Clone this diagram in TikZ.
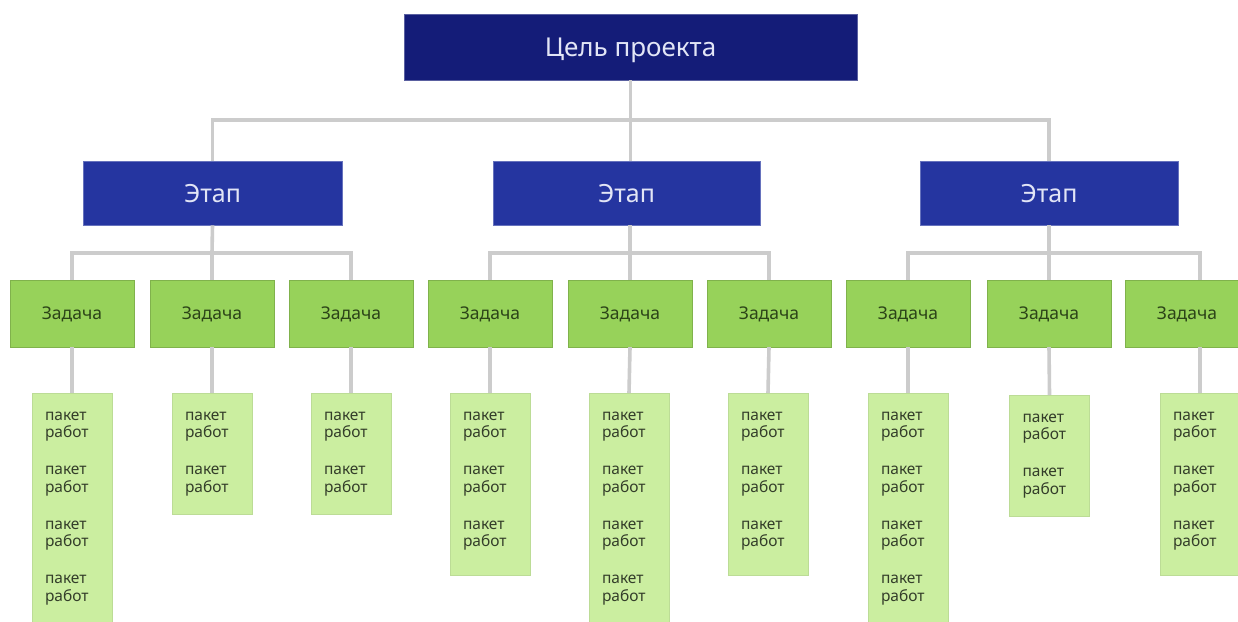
\documentclass[tikz,border=0pt]{standalone}
\usepackage{fontspec}
\setmainfont{Noto Sans}
\definecolor{goalc}{RGB}{20,28,120}
\definecolor{stagec}{RGB}{37,53,160}
\definecolor{taskc}{RGB}{151,210,90}
\definecolor{pkgc}{RGB}{203,238,160}
\definecolor{pkgb}{RGB}{188,220,150}
\definecolor{linec}{RGB}{204,204,204}
\definecolor{lighttxt}{RGB}{226,229,246}
\definecolor{tasktxt}{RGB}{44,68,24}
\definecolor{pkgtxt}{RGB}{52,62,42}
\newcommand\pkgtext[2]{\parbox[t][#1][t]{54pt}{\fontsize{15.5}{17.5}\selectfont\vspace*{14.75pt}#2}}
\newcommand\pkpair{\strut пакет\\\strut работ}
\newcommand\pkgap{\\[19.5pt]}
\begin{document}
\begin{tikzpicture}[x=1pt,y=-1pt,
  goalbox/.style={rectangle, fill=goalc, draw=goalc!70!white, line width=0.6pt, minimum width=453pt, minimum height=66pt, inner sep=0pt, text depth=0pt, text=lighttxt, font=\fontsize{26}{30}\selectfont},
  stagebox/.style={rectangle, fill=stagec, draw=stagec!70!white, line width=0.6pt, minimum height=64pt, inner sep=0pt, text depth=0pt, text=lighttxt, font=\fontsize{25}{30}\selectfont},
  taskbox/.style={rectangle, fill=taskc, draw=taskc!85!black, line width=0.4pt, minimum width=124pt, minimum height=67pt, inner sep=0pt, text depth=0pt, text=tasktxt, font=\fontsize{17.5}{20}\selectfont},
  pkgbox/.style={rectangle, fill=pkgc, draw=pkgb, line width=0.6pt, anchor=north, inner xsep=13pt, inner ysep=0pt, text=pkgtxt},
  conn/.style={draw=linec, line width=3.6pt}]
\useasboundingbox (0,0) rectangle (1238,621);
\clip (0,0) rectangle (1238,621);
\fill[white] (0,0) rectangle (1238,621);
% nodes
\node[goalbox] (goal) at (630.5,47) {Цель проекта};
\node[stagebox, minimum width=259pt] (e1) at (212.5,193) {Этап};
\node[stagebox, minimum width=267pt] (e2) at (626.5,193) {Этап};
\node[stagebox, minimum width=258pt] (e3) at (1049,193) {Этап};
\node[taskbox] (t11) at (72,313.5) {Задача};
\node[taskbox] (t12) at (212,313.5) {Задача};
\node[taskbox] (t13) at (351,313.5) {Задача};
\node[taskbox] (t21) at (490,313.5) {Задача};
\node[taskbox] (t22) at (630,313.5) {Задача};
\node[taskbox] (t23) at (769,313.5) {Задача};
\node[taskbox] (t31) at (908,313.5) {Задача};
\node[taskbox] (t32) at (1049,313.5) {Задача};
\node[taskbox, minimum width=150pt] (t33) at (1200,313.5) {\hspace*{-26pt}Задача};
% bus coordinates
\coordinate (b0) at (630.5,120);
\coordinate (b1) at (212,253);
\coordinate (b2) at (630,253);
\coordinate (b3) at (1049,253);
% connectors
\draw[conn] (goal.south) -- (b0);
\draw[conn] (e1.north) |- (b0) -| (e3.north);
\draw[conn] (b0) -- (b0 |- e2.north);
\draw[conn] (e1.south) -- (b1) -- (t12.north);
\draw[conn] (t11.north) |- (b1) -| (t13.north);
\draw[conn] (e2.south -| b2) -- (b2) -- (t22.north);
\draw[conn] (t21.north) |- (b2) -| (t23.north);
\draw[conn] (e3.south) -- (b3) -- (t32.north);
\draw[conn] (t31.north) |- (b3) -| (t33.north);
% packages
\node[pkgbox] (p11) at (72,393) {\pkgtext{240pt}{\pkpair\pkgap\pkpair\pkgap\pkpair\pkgap\pkpair}};
\node[pkgbox] (p12) at (212,393) {\pkgtext{121pt}{\pkpair\pkgap\pkpair}};
\node[pkgbox] (p13) at (351,393) {\pkgtext{121pt}{\pkpair\pkgap\pkpair}};
\node[pkgbox] (p21) at (490,393) {\pkgtext{182pt}{\pkpair\pkgap\pkpair\pkgap\pkpair}};
\node[pkgbox] (p22) at (629,393) {\pkgtext{240pt}{\pkpair\pkgap\pkpair\pkgap\pkpair\pkgap\pkpair}};
\node[pkgbox] (p23) at (768,393) {\pkgtext{182pt}{\pkpair\pkgap\pkpair\pkgap\pkpair}};
\node[pkgbox] (p31) at (908,393) {\pkgtext{240pt}{\pkpair\pkgap\pkpair\pkgap\pkpair\pkgap\pkpair}};
\node[pkgbox] (p32) at (1049.5,395) {\pkgtext{121pt}{\pkpair\pkgap\pkpair}};
\node[pkgbox] (p33) at (1200,393) {\pkgtext{182pt}{\pkpair\pkgap\pkpair\pkgap\pkpair}};
\foreach \t/\p in {t11/p11,t12/p12,t13/p13,t21/p21,t22/p22,t23/p23,t31/p31,t32/p32,t33/p33}
  \draw[conn] (\t.south) -- (\p.north);
\end{tikzpicture}
\end{document}
